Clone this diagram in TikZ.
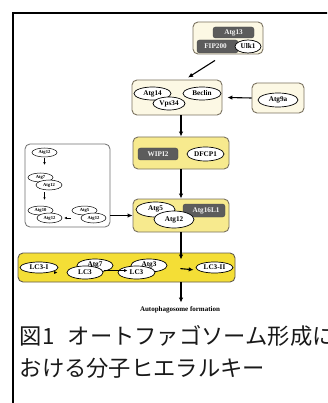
\documentclass[tikz,border=0pt]{standalone}
\usepackage{fontspec}
\setmainfont{Liberation Serif}
\newfontfamily\jpfont{Noto Sans CJK JP}
\usetikzlibrary{shapes.geometric,arrows.meta}
\definecolor{creamc}{HTML}{FCF8E4}
\definecolor{bordc}{HTML}{7A7260}
\definecolor{paley}{HTML}{F7EA8E}
\definecolor{brighty}{HTML}{F4DE36}
\definecolor{darkc}{HTML}{5C5C5C}
\definecolor{greyc}{HTML}{707070}
\tikzset{
 sz/.style 2 args={minimum width=#1pt, minimum height=#2pt},
 cbox/.style={draw=bordc, fill=creamc, rounded corners=5pt, line width=0.9pt, inner sep=0pt},
 ybox/.style={draw=bordc, fill=paley, rounded corners=5pt, line width=0.9pt, inner sep=0pt},
 bybox/.style={draw=bordc!80!black, fill=brighty, rounded corners=5pt, line width=0.9pt, inner sep=0pt},
 wbox/.style={draw=greyc, fill=white, rounded corners=5pt, line width=0.8pt, inner sep=0pt},
 dk/.style={fill=darkc, draw=darkc!80!black, rounded corners=2.5pt, text=white!92!gray, inner sep=0pt, font=\bfseries\fontsize{7.2}{8}\selectfont},
 el/.style={ellipse, draw=black, line width=0.7pt, fill=white, inner sep=0pt, font=\bfseries\fontsize{7.2}{8}\selectfont},
 sel/.style={ellipse, draw=black, line width=0.5pt, fill=white, inner sep=0pt, font=\bfseries\fontsize{4.6}{5}\selectfont},
 arr/.style={-{Latex[length=5pt,width=4.5pt]}, line width=1.1pt},
 marr/.style={-{Latex[length=3.5pt,width=3pt]}, line width=0.9pt},
 sarr/.style={-{Latex[length=2.5pt,width=2.5pt]}, line width=0.6pt},
 captext/.style={anchor=west, inner sep=0pt, font=\jpfont\fontsize{22.3}{26}\selectfont, text=black!90}
}
\begin{document}
\begin{tikzpicture}[x=1pt,y=-1pt]
\useasboundingbox (0,0) rectangle (327,403);
\clip (0,0) rectangle (327,403);
\fill[white] (0,0) rectangle (327,403);
% outer frame
\draw[line width=2pt] (13,420) -- (13,13.5) -- (340,13.5);

% top complex
\node[cbox, sz={70}{32}] (topbox) at (228,38) {};
\node[dk, sz={41}{11}] (atg13) at (233.5,32.5) {Atg13};
\node[dk, sz={41}{13}] (fip) at (217.5,46.5) {\hspace*{-4pt}FIP200};
\node[el, sz={26}{13}] (ulk) at (248,46.5) {Ulk1};

% Vps34 complex
\node[cbox, sz={90}{35}] (vbox) at (177,97.5) {};
\node[el, sz={37}{13}] (atg14) at (152.5,93.5) {Atg14};
\node[el, sz={38}{13}] (beclin) at (202,93.5) {Beclin};
\node[el, sz={32}{13}] (vps) at (169,103.5) {Vps34};

% Atg9a
\node[cbox, sz={52}{30}] (a9box) at (278,98) {};
\node[el, sz={40}{14}] (atg9a) at (278,100) {Atg9a};

% WIPI2 / DFCP1
\node[ybox, sz={96}{32}] (wbox) at (181,153) {};
\node[dk, sz={40}{12}] (wipi) at (158,154) {WIPI2};
\node[el, sz={37}{14}] (dfcp) at (205.5,154) {DFCP1};

% Atg5-Atg12-Atg16L1
\node[ybox, sz={96}{33}] (abox) at (181,215.5) {};
\node[dk, sz={42}{13}] (a16) at (204,210.5) {\hspace*{4pt}Atg16L1};
\node[el, sz={39}{15}] (a5) at (155.5,209.5) {\raisebox{2pt}{Atg5}};
\node[el, sz={40}{17}] (a12) at (174,219.5) {Atg12};

% left conjugation box
\node[wbox, sz={85}{83}] (lbox) at (67.5,185.5) {};
\node[sel, sz={25}{9}] (e1) at (44.5,152.5) {Atg12};
\node[sel, sz={25}{9}] (e2) at (40.5,177.5) {Atg7};
\node[sel, sz={26}{10}] (e3) at (49,185) {Atg12};
\node[sel, sz={25}{9}] (e4) at (40.5,210.5) {Atg10};
\node[sel, sz={25}{10}] (e5) at (49.5,218) {Atg12};
\node[sel, sz={25}{9}] (e6) at (84.5,210.5) {Atg5};
\node[sel, sz={25}{10}] (e7) at (93.5,218) {Atg12};

% LC3 box
\node[bybox, sz={217}{29}] (cbox) at (126.5,267.5) {};
\node[el, sz={38}{11}] (lc1) at (39,267.5) {LC3-I};
\node[el, sz={36}{13}] (at7) at (95,265.5) {\raisebox{2pt}{Atg7}};
\node[el, sz={36}{13}] (lc3a) at (85,272.5) {LC3};
\node[el, sz={36}{13}] (at3) at (149,265.5) {\raisebox{2pt}{Atg3}};
\node[el, sz={37}{13}] (lc3b) at (136.5,272.5) {LC3};
\node[el, sz={37}{11}] (lc2) at (214.5,267.5) {LC3-II};

\node[inner sep=0pt, font=\bfseries\fontsize{7}{8}\selectfont] (auto) at (180,310) {Autophagosome formation};

% arrows
\draw[arr] ([xshift=-13pt,yshift=-6pt]topbox.south) -- ([xshift=11pt,yshift=2pt]vbox.north);
\draw[arr] (a9box.west) -- ([xshift=5pt]vbox.east);
\draw[arr] (wbox.north |- vbox.south) -- (wbox.north);
\draw[arr] (wbox.south) -- (abox.north);
\draw[arr] (lbox.east |- abox.west) -- (abox.west);
\draw[arr] (abox.south) -- ([yshift=-7pt]abox.south |- cbox.north);
\draw[arr] (abox.south |- cbox.south) -- ([yshift=4pt]abox.south |- auto.north);
\draw[sarr, shorten <=1pt, shorten >=8pt] (e1.south) -- (e1.south |- e2.north);
\draw[sarr, shorten <=2pt, shorten >=6pt] (e1.south |- e3.south) -- (e1.south |- e4.north);
\draw[sarr, shorten >=2pt] ([xshift=-1pt]e6.west |- e7.west) -- (e5.east);
\draw[marr, shorten <=2pt, shorten >=9pt] (lc1.east |- lc3a.west) -- (lc3a.west |- lc3a.west);
\draw[marr, shorten <=1pt, shorten >=3pt] ([yshift=2pt]lc3a.east) -- ([yshift=2pt]lc3b.west -| at3.west);
\draw[arr, shorten <=1pt, shorten >=2pt] ([xshift=12pt,yshift=-3pt]at3.east) -- ([yshift=-2.5pt]lc2.west);

% caption
\node[captext] (cap1) at (19.5,336) {図1\hspace{0.6em}オートファゴソーム形成に};
\node[captext] (cap2) at (19.5,368.5) {おける分子ヒエラルキー};
\end{tikzpicture}
\end{document}
